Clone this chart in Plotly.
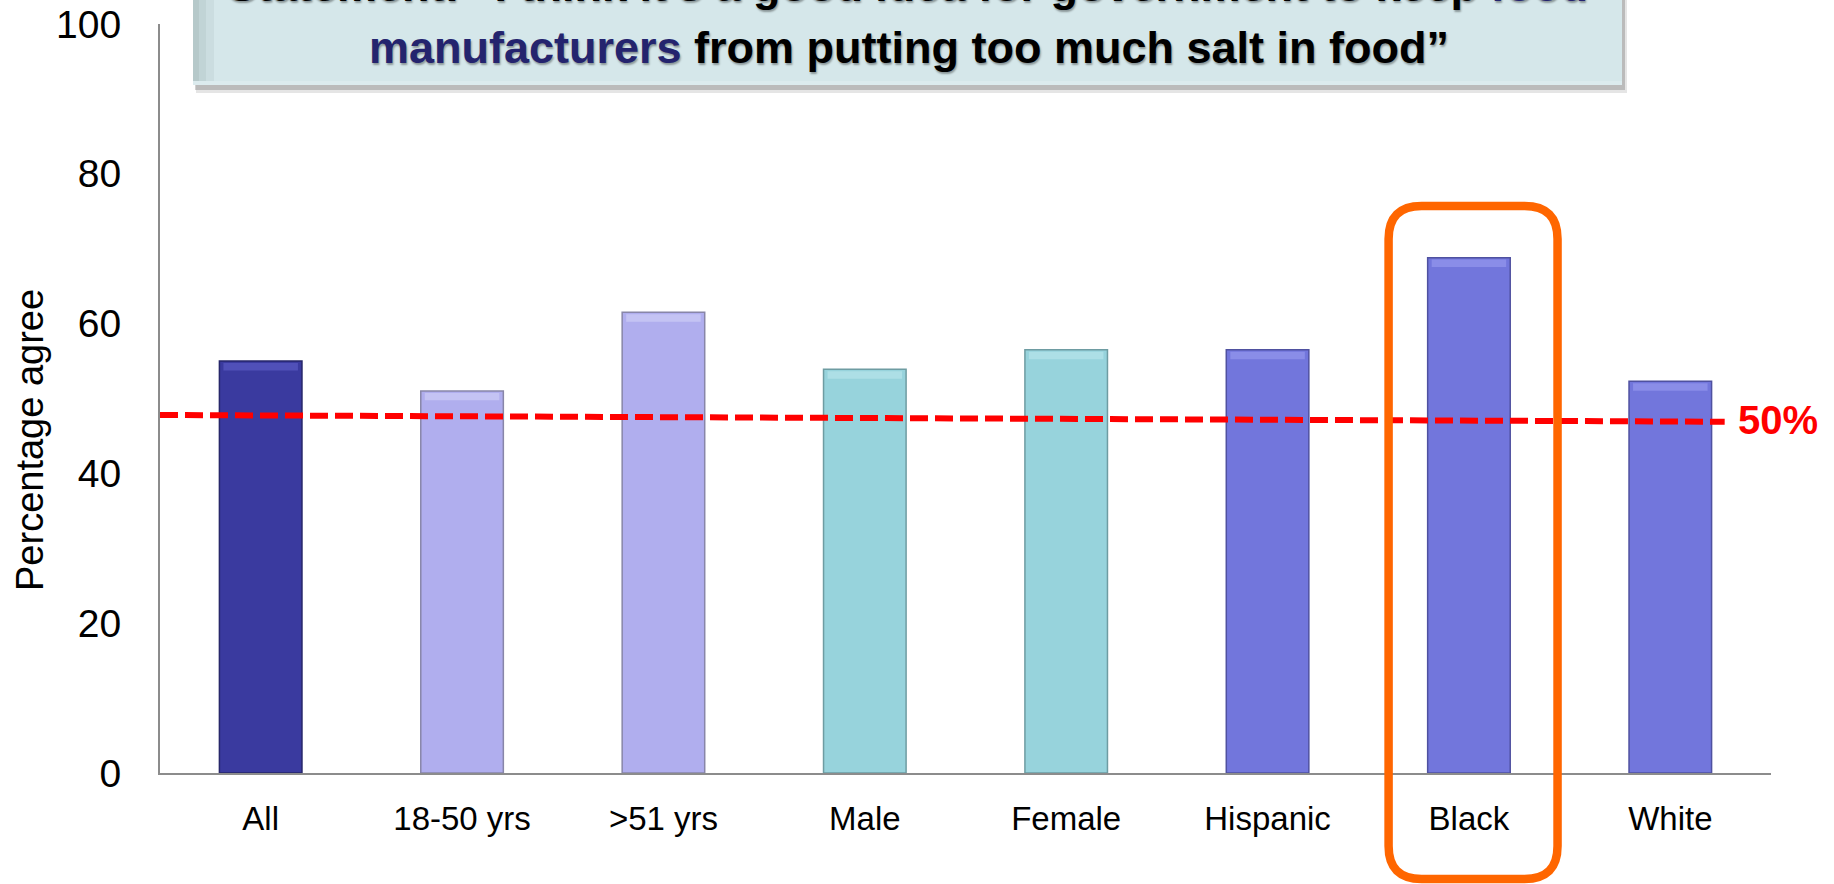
import plotly.graph_objects as go

# ---- data ----
categories = ["All", "18-50 yrs", ">51 yrs", "Male", "Female", "Hispanic", "Black", "White"]
values = [55.0, 51.0, 61.5, 53.9, 56.5, 56.5, 68.8, 52.3]
groups = ["all", "age", "age", "sex", "sex", "race", "race", "race"]
threshold_label = "50%"
threshold_drawn = [47.8, 46.9]   # the dashed line as drawn (left end, right end)
highlight = "Black"
y_ticks = [0, 20, 40, 60, 80, 100]
title_line1 = 'Statement: “I think it’s a good idea for government to keep '
title_hl1 = 'food'
title_hl2 = 'manufacturers'
title_line2 = ' from putting too much salt in food”'
y_title = "Percentage agree"

# ---- styles ----
fill = {"all": "#3a3a9f", "age": "#b0aeee", "sex": "#97d3dc", "race": "#7276dc"}
shine = {"all": "#5050b8", "age": "#c4c3f3", "sex": "#addfe6", "race": "#8a8de8"}
edge = {"all": "#26266a", "age": "#8886a8", "sex": "#6e9ca2", "race": "#4f51a0"}
navy = "#24246e"
FONT = "Liberation Sans, Arial, sans-serif"

W, H = 1834, 884
L, R, T, B = 160, 63, 24, 111
pw, ph = W - L - R, H - T - B


def px_x(px):
    return (px - L) / pw


def px_y(py):
    return (H - B - py) / ph


def rrect(x0, y0, x1, y1, rx, ry):
    return (f"M {x0+rx},{y0} L {x1-rx},{y0} Q {x1},{y0} {x1},{y0+ry} "
            f"L {x1},{y1-ry} Q {x1},{y1} {x1-rx},{y1} L {x0+rx},{y1} "
            f"Q {x0},{y1} {x0},{y1-ry} L {x0},{y0+ry} Q {x0},{y0} {x0+rx},{y0} Z")


fig = go.Figure()
fig.add_trace(go.Bar(
    x=categories, y=values, width=0.41,
    marker=dict(color=[fill[g] for g in groups],
                line=dict(color=[edge[g] for g in groups], width=1.5)),
    hoverinfo="skip", showlegend=False,
))
# bevel highlight at the top of each bar
band = 1.0
fig.add_trace(go.Bar(
    x=categories, y=[band] * len(values), base=[v - band - 0.25 for v in values], width=0.37,
    marker=dict(color=[shine[g] for g in groups], line=dict(width=0)),
    hoverinfo="skip", showlegend=False,
))

n = len(categories)
shapes = []
# title box shadow + box
shapes.append(dict(type="rect", xref="paper", yref="paper",
                   x0=px_x(196), x1=px_x(1627), y0=px_y(93), y1=px_y(-30),
                   fillcolor="rgba(0,0,0,0.10)", line=dict(width=0), layer="above"))
shapes.append(dict(type="rect", xref="paper", yref="paper",
                   x0=px_x(195), x1=px_x(1625), y0=px_y(90), y1=px_y(-30),
                   fillcolor="rgba(0,0,0,0.18)", line=dict(width=0), layer="above"))
shapes.append(dict(type="rect", xref="paper", yref="paper",
                   x0=px_x(193), x1=px_x(1622), y0=px_y(85), y1=px_y(-30),
                   fillcolor="#d5e7ea", line=dict(width=0), layer="above"))
for a, b_, c in [(193, 199, "#b6c9ca"), (199, 206, "#c1d4d6"), (206, 214, "#cbdde0")]:
    shapes.append(dict(type="rect", xref="paper", yref="paper",
                       x0=px_x(a), x1=px_x(b_), y0=px_y(85), y1=px_y(-30),
                       fillcolor=c, line=dict(width=0), layer="above"))
shapes.append(dict(type="rect", xref="paper", yref="paper",
                   x0=px_x(193), x1=px_x(1622), y0=px_y(85), y1=px_y(81),
                   fillcolor="#dcebee", line=dict(width=0), layer="above"))

# dashed reference line
shapes.append(dict(type="line", xref="x", yref="y",
                   x0=-0.5, x1=n - 1 + 0.27, y0=threshold_drawn[0], y1=threshold_drawn[1],
                   line=dict(color="#ff0000", width=6, dash="18px,7px"), layer="above"))

# highlight rounded box around "Black"
i = categories.index(highlight)
bx0, bx1 = (i + 0.5 - 0.399) / n, (i + 0.5 + 0.44) / n
by0, by1 = -14.15 / 100, 75.7 / 100
shapes.append(dict(type="path", xref="paper", yref="paper",
                   path=rrect(bx0, by0, bx1, by1, 33 / pw, 33 / ph),
                   line=dict(color="#ff6600", width=8.5), fillcolor="rgba(0,0,0,0)",
                   layer="above"))

title_font = dict(family=FONT, size=45, color="black",
                  shadow="1px 2px 2px rgba(0,0,0,0.35)")
annotations = [
    dict(xref="paper", yref="paper", x=px_x(907), y=px_y(-15), xanchor="center", yanchor="middle",
         text=f'<b>{title_line1}<span style="color:{navy}">{title_hl1}</span></b>',
         showarrow=False, font=title_font),
    dict(xref="paper", yref="paper", x=px_x(909), y=px_y(47), xanchor="center", yanchor="middle",
         text=f'<b><span style="color:{navy}">{title_hl2}</span>{title_line2}</b>',
         showarrow=False, font=title_font),
    dict(xref="paper", yref="paper", x=px_x(1778), y=px_y(420), xanchor="center", yanchor="middle",
         text=f"<b>{threshold_label}</b>", showarrow=False,
         font=dict(family=FONT, size=40, color="#ff0000")),
    dict(xref="paper", yref="paper", x=px_x(30), y=px_y(440), xanchor="center", yanchor="middle",
         text=y_title, textangle=-90, showarrow=False,
         font=dict(family=FONT, size=38, color="black")),
]

fig.update_layout(
    width=W, height=H, autosize=False,
    margin=dict(l=L, r=R, t=T, b=B, pad=0, autoexpand=False),
    paper_bgcolor="white", plot_bgcolor="white",
    shapes=shapes, annotations=annotations, barmode="overlay",
    xaxis=dict(range=[-0.5, n - 0.5], showline=True, linecolor="#8c8c8c", linewidth=2,
               showgrid=False, zeroline=False, ticks="", ticklabelstandoff=15, automargin=False,
               tickfont=dict(family=FONT, size=33, color="black")),
    yaxis=dict(range=[0, 100], tickvals=y_ticks, showline=True, linecolor="#8c8c8c", linewidth=2,
               showgrid=False, zeroline=False, ticks="", ticklabelstandoff=29, automargin=False,
               tickfont=dict(family=FONT, size=39, color="black")),
)

fig.write_html("out.html")
